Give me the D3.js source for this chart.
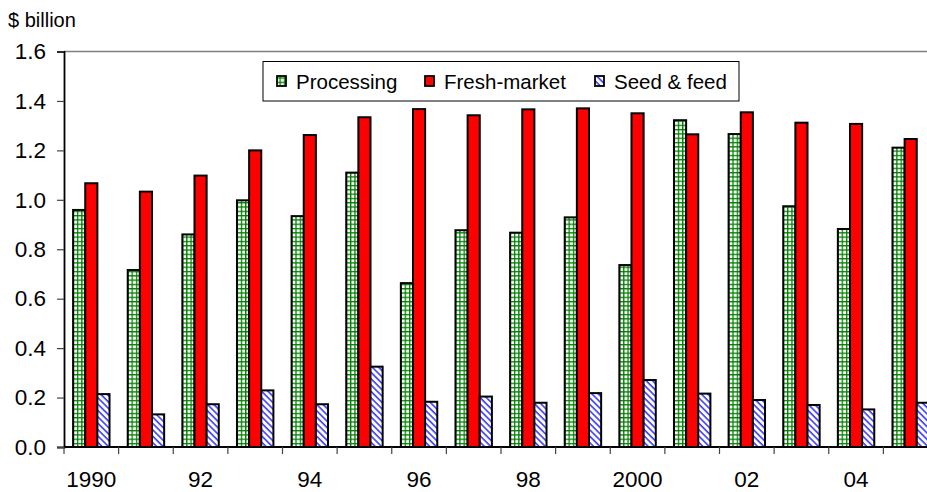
<!DOCTYPE html>
<html>
<head>
<meta charset="utf-8">
<script src="https://cdn.jsdelivr.net/npm/d3@7"></script>
<style>
  html, body { margin: 0; padding: 0; background: #fff; }
  svg { display: block; font-family: "Liberation Sans", Arial, sans-serif; }
</style>
</head>
<body>
<svg id="chart" width="927" height="492"></svg>
<script>
const years = ["1990","1991","1992","1993","1994","1995","1996","1997","1998","1999","2000","2001","2002","2003","2004","2005"];
const xTickLabels = ["1990","","92","","94","","96","","98","","2000","","02","","04",""];
const processing = [0.959, 0.716, 0.860, 0.998, 0.934, 1.110, 0.663, 0.877, 0.867, 0.929, 0.736, 1.322, 1.266, 0.974, 0.882, 1.211];
const freshMarket = [1.067, 1.033, 1.098, 1.200, 1.262, 1.334, 1.367, 1.342, 1.366, 1.370, 1.350, 1.265, 1.354, 1.312, 1.307, 1.246];
const seedFeed = [0.214, 0.132, 0.173, 0.229, 0.173, 0.325, 0.183, 0.204, 0.179, 0.218, 0.271, 0.216, 0.190, 0.170, 0.152, 0.179];
const seriesNames = ["Processing", "Fresh-market", "Seed & feed"];
const yTicks = [0, 0.2, 0.4, 0.6, 0.8, 1.0, 1.2, 1.4, 1.6];

const svg = d3.select("#chart");
const mLeft = 64, mRight = 938, mTop = 51.5, mBottom = 447;

const defs = svg.append("defs");
const pGrid = defs.append("pattern").attr("id", "grid").attr("patternUnits", "userSpaceOnUse")
  .attr("width", 4.3).attr("height", 4.3);
pGrid.append("rect").attr("width", 4.3).attr("height", 4.3).attr("fill", "#fff");
pGrid.append("rect").attr("x", 0).attr("y", 0).attr("width", 1.3).attr("height", 4.3).attr("fill", "#008000");
pGrid.append("rect").attr("x", 0).attr("y", 0).attr("width", 4.3).attr("height", 1.3).attr("fill", "#008000");

const pDiag = defs.append("pattern").attr("id", "diag").attr("patternUnits", "userSpaceOnUse")
  .attr("width", 4.5).attr("height", 4.5).attr("patternTransform", "rotate(45)");
pDiag.append("rect").attr("width", 4.5).attr("height", 4.5).attr("fill", "#fff");
pDiag.append("rect").attr("x", 0).attr("y", 0).attr("width", 4.5).attr("height", 1.6).attr("fill", "#3a3aff");

const fills = ["url(#grid)", "#ff0000", "url(#diag)"];
const data = [processing, freshMarket, seedFeed];

const x = d3.scaleBand().domain(years).range([mLeft, mRight]).paddingInner(0).paddingOuter(0);
const xInner = d3.scaleBand().domain([0, 1, 2]).range([0, x.bandwidth()]).paddingOuter(0.75).paddingInner(0);
const y = d3.scaleLinear().domain([0, 1.6]).range([mBottom, mTop]);

// top border line
svg.append("line").attr("x1", mLeft).attr("x2", mRight).attr("y1", y(1.6)).attr("y2", y(1.6))
  .attr("stroke", "#808080").attr("stroke-width", 1.5);

// bars
years.forEach((yr, i) => {
  const g = svg.append("g").attr("transform", `translate(${x(yr)},0)`);
  data.forEach((arr, s) => {
    g.append("rect")
      .attr("x", xInner(s))
      .attr("y", y(arr[i]))
      .attr("width", xInner.bandwidth())
      .attr("height", y(0) - y(arr[i]))
      .attr("fill", fills[s])
      .attr("stroke", "#000")
      .attr("stroke-width", 2);
  });
});

// y axis
const yAxis = d3.axisLeft(y).tickValues(yTicks).tickFormat(d3.format(".1f")).tickSize(7).tickPadding(11);
const gy = svg.append("g").attr("transform", `translate(${mLeft},0)`).call(yAxis);
gy.select(".domain").attr("stroke", "#000").attr("stroke-width", 1.8);
gy.selectAll(".tick line").attr("stroke", "#444").attr("stroke-width", 1.2);
gy.selectAll(".tick text").attr("font-size", 22.5).attr("fill", "#000")
  .attr("font-family", "Liberation Sans, Arial, sans-serif");

// x axis
const gx = svg.append("g").attr("transform", `translate(0,${mBottom})`);
gx.append("line").attr("x1", mLeft).attr("x2", mRight).attr("y1", 0).attr("y2", 0)
  .attr("stroke", "#000").attr("stroke-width", 1.8);
const boundaries = years.map(yr => x(yr));
gx.selectAll("line.tk").data(boundaries).join("line").attr("class", "tk")
  .attr("x1", d => d).attr("x2", d => d).attr("y1", 0).attr("y2", 7)
  .attr("stroke", "#444").attr("stroke-width", 1.2);
gx.selectAll("text").data(years).join("text")
  .attr("x", d => x(d) + x.bandwidth() / 2)
  .attr("y", 40)
  .attr("text-anchor", "middle")
  .attr("font-size", 22.5)
  .attr("fill", "#000")
  .text((d, i) => xTickLabels[i]);

// unit label
svg.append("text").attr("x", 8).attr("y", 27).attr("font-size", 20).attr("fill", "#000").text("$ billion");

// legend
const lg = svg.append("g");
lg.append("rect").attr("x", 263).attr("y", 61.5).attr("width", 476).attr("height", 39.5)
  .attr("fill", "#fff").attr("stroke", "#000").attr("stroke-width", 1);
const legX = [277, 425, 595];
seriesNames.forEach((name, s) => {
  lg.append("rect").attr("x", legX[s]).attr("y", 76).attr("width", 9).attr("height", 10)
    .attr("fill", fills[s]).attr("stroke", "#000").attr("stroke-width", 1.8);
  lg.append("text").attr("x", legX[s] + 9 + 10).attr("y", 89).attr("font-size", 20.5).attr("fill", "#000").text(name);
});
</script>
</body>
</html>
